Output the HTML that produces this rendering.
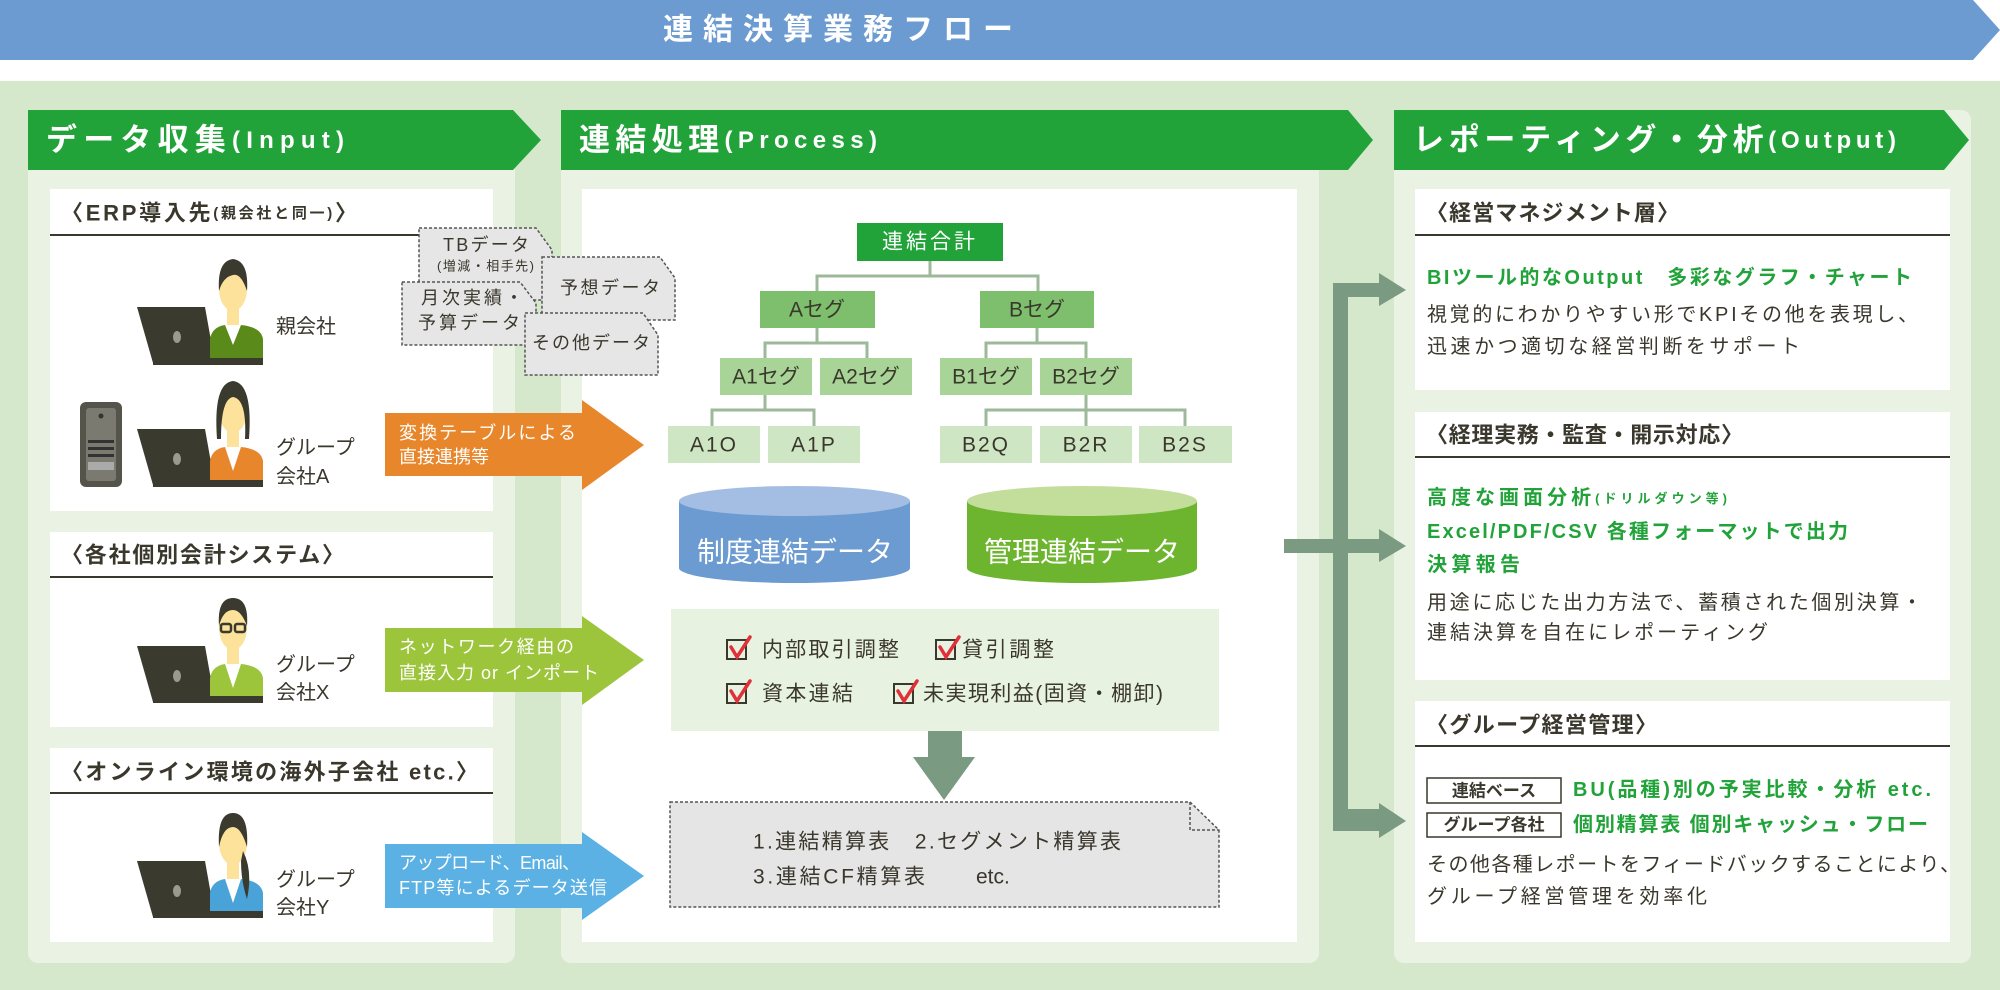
<!DOCTYPE html>
<html><head><meta charset="utf-8"><style>
html,body{margin:0;padding:0;background:#fff;}
svg{display:block;}
text{font-family:"Liberation Sans","Noto Sans CJK JP",sans-serif;}
</style></head><body>
<svg width="2000" height="990" viewBox="0 0 2000 990" xmlns="http://www.w3.org/2000/svg">
<defs>
<g id="lap">
  <polygon points="0,50 68,50 78,106 16,106" fill="#3b3a2f"/>
  <ellipse cx="40" cy="80" rx="4" ry="6" fill="#9a9a90"/>
</g>
</defs>
<!-- banner -->
<polygon points="0,0 1973,0 2000,30 1973,60 0,60" fill="#6b9bd1"/>
<text x="843" y="30" dominant-baseline="central" text-anchor="middle" font-size="30" font-weight="bold" fill="#fff" letter-spacing="10">連結決算業務フロー</text>
<rect x="0" y="81" width="2000" height="909" fill="#d5e8cc"/>
<!-- panels -->
<rect x="28" y="110" width="487" height="853" rx="10" fill="#eaf3e3"/>
<rect x="561" y="110" width="758" height="853" rx="10" fill="#eaf3e3"/>
<rect x="1394" y="110" width="577" height="853" rx="10" fill="#eaf3e3"/>
<polygon points="28,110 513,110 541,140 513,170 28,170" fill="#21a33a"/>
<polygon points="561,110 1348,110 1373,140 1348,170 561,170" fill="#21a33a"/>
<polygon points="1394,110 1944,110 1969,140 1944,170 1394,170" fill="#21a33a"/>
<text x="46" y="140" dominant-baseline="central" font-size="31" font-weight="bold" fill="#fff" textLength="298">データ収集<tspan font-size="24">(Input)</tspan></text>
<text x="579" y="140" dominant-baseline="central" font-size="31" font-weight="bold" fill="#fff" textLength="298">連結処理<tspan font-size="24">(Process)</tspan></text>
<text x="1413" y="140" dominant-baseline="central" font-size="31" font-weight="bold" fill="#fff" textLength="483">レポーティング・分析<tspan font-size="24">(Output)</tspan></text>

<!-- middle white -->
<rect x="582" y="189" width="715" height="753" fill="#fff"/>

<!-- left cards -->
<rect x="50" y="189" width="443" height="322" fill="#fff"/>
<rect x="50" y="532" width="443" height="195" fill="#fff"/>
<rect x="50" y="748" width="443" height="194" fill="#fff"/>
<g fill="#3a372c" font-weight="bold">
<text x="61" y="213" dominant-baseline="central" font-size="22" textLength="296">〈ERP導入先<tspan font-size="15">(親会社と同一)</tspan>〉</text>
<text x="61" y="555" dominant-baseline="central" font-size="22" textLength="283">〈各社個別会計システム〉</text>
<text x="61" y="772" dominant-baseline="central" font-size="22" textLength="417">〈オンライン環境の海外子会社 etc.〉</text>
</g>
<rect x="50" y="234" width="372" height="2" fill="#3a372c"/>
<rect x="50" y="576" width="443" height="2" fill="#3a372c"/>
<rect x="50" y="792" width="443" height="2" fill="#3a372c"/>

<!-- persons -->
<g transform="translate(137,257)">
  <use href="#lap"/>
  <path d="M73,108 L73,82 Q75,70 88,68 L104,68 Q124,70 126,82 L126,108 Z" fill="#5a8a1a"/>
  <polygon points="88,68 96,88 104,68" fill="#fff"/>
  <rect x="90" y="52" width="12" height="16" fill="#fce29a"/>
  <ellipse cx="96" cy="32" rx="14" ry="22" fill="#fce29a"/>
  <path d="M82,34 Q80,4 96,2 Q112,4 110,34 Q104,16 96,18 Q86,20 82,34Z" fill="#3b3a2f"/>
  <rect x="16" y="101" width="110" height="7" fill="#3b3a2f"/>
</g>
<text x="276" y="327" dominant-baseline="central" font-size="20" fill="#3a372c">親会社</text>
<g transform="translate(137,379)">
  <use href="#lap"/>
  <path d="M73,108 L73,82 Q75,70 88,68 L104,68 Q124,70 126,82 L126,108 Z" fill="#e8862b"/>
  <polygon points="88,68 96,92 104,68" fill="#fff"/>
  <rect x="90" y="52" width="12" height="16" fill="#fce29a"/>
  <ellipse cx="96" cy="32" rx="14" ry="22" fill="#fce29a"/>
  <path d="M80,60 Q76,4 96,2 Q116,4 112,60 L108,60 Q110,20 96,18 Q84,20 84,60Z" fill="#3b3a2f"/>
  <rect x="16" y="101" width="110" height="7" fill="#3b3a2f"/>
</g>
<rect x="80" y="402" width="42" height="85" rx="6" fill="#55544a"/>
<rect x="86" y="408" width="30" height="73" rx="3" fill="#7a7a70"/>
<rect x="88" y="440" width="26" height="3" fill="#333"/><rect x="88" y="447" width="26" height="3" fill="#333"/><rect x="88" y="454" width="26" height="3" fill="#333"/>
<rect x="88" y="462" width="26" height="8" fill="#aaa"/>
<circle cx="101" cy="416" r="2.5" fill="#333"/>
<text x="276" y="448" dominant-baseline="central" font-size="20" fill="#3a372c">グループ</text>
<text x="276" y="477" dominant-baseline="central" font-size="20" fill="#3a372c">会社A</text>
<g transform="translate(137,596)">
  <use href="#lap"/>
  <path d="M73,107 L73,82 Q75,70 88,68 L104,68 Q124,70 126,82 L126,107 Z" fill="#9cc53c"/>
  <polygon points="88,68 96,92 104,68" fill="#fff"/>
  <rect x="90" y="52" width="12" height="16" fill="#fce29a"/>
  <ellipse cx="96" cy="32" rx="14" ry="22" fill="#fce29a"/>
  <path d="M82,30 Q80,2 96,2 Q112,2 110,30 Q104,14 96,14 Q86,14 82,30Z" fill="#3b3a2f"/>
  <rect x="84" y="28" width="10" height="8" rx="2" fill="none" stroke="#3b3a2f" stroke-width="2.5"/>
  <rect x="98" y="28" width="10" height="8" rx="2" fill="none" stroke="#3b3a2f" stroke-width="2.5"/>
  <rect x="16" y="100" width="110" height="7" fill="#3b3a2f"/>
</g>
<text x="276" y="665" dominant-baseline="central" font-size="20" fill="#3a372c">グループ</text>
<text x="276" y="693" dominant-baseline="central" font-size="20" fill="#3a372c">会社X</text>
<g transform="translate(137,811)">
  <use href="#lap"/>
  <path d="M73,107 L73,82 Q75,70 88,68 L104,68 Q124,70 126,82 L126,107 Z" fill="#4aa3d8"/>
  <polygon points="88,68 96,92 104,68" fill="#fff"/>
  <rect x="90" y="52" width="12" height="16" fill="#fce29a"/>
  <ellipse cx="96" cy="32" rx="14" ry="22" fill="#fce29a"/>
  <path d="M82,36 Q80,2 96,2 Q112,2 110,36 Q104,16 96,16 Q86,16 82,36Z" fill="#3b3a2f"/>
  <path d="M106,40 Q116,60 110,88 Q104,70 104,50Z" fill="#3b3a2f"/>
  <rect x="16" y="100" width="110" height="7" fill="#3b3a2f"/>
</g>
<text x="276" y="880" dominant-baseline="central" font-size="20" fill="#3a372c">グループ</text>
<text x="276" y="908" dominant-baseline="central" font-size="20" fill="#3a372c">会社Y</text>

<!-- documents -->
<g fill="#e6e6e6" stroke="#555" stroke-width="1.5" stroke-dasharray="3,2">
<path d="M419,228 L536,228 L552,250 L552,300 L419,300 Z"/>
<path d="M542,257 L660,257 L675,278 L675,320 L542,320 Z"/>
<path d="M402,282 L520,282 L536,303 L536,345 L402,345 Z"/>
<path d="M525,313 L643,313 L658,335 L658,375 L525,375 Z"/>
</g>
<g fill="#3a372c" font-size="18">
<text x="443" y="245" dominant-baseline="central" textLength="86">TBデータ</text>
<text x="437" y="266" dominant-baseline="central" font-size="13" textLength="97">(増減・相手先)</text>
<text x="560" y="288" dominant-baseline="central" textLength="100">予想データ</text>
<text x="421" y="298" dominant-baseline="central" textLength="102">月次実績・</text>
<text x="418" y="323" dominant-baseline="central" textLength="102">予算データ</text>
<text x="532" y="343" dominant-baseline="central" textLength="118">その他データ</text>
</g>

<!-- input arrows -->
<polygon points="385,413 582,413 582,400 644,445 582,490 582,476 385,476" fill="#e8862b"/>
<polygon points="385,628 582,628 582,616 644,660 582,705 582,692 385,692" fill="#9cc53c"/>
<polygon points="385,844 582,844 582,832 644,876 582,920 582,908 385,908" fill="#5bb1e3"/>
<g fill="#fff" font-size="18">
<text x="399" y="433" dominant-baseline="central" textLength="177">変換テーブルによる</text>
<text x="399" y="457" dominant-baseline="central">直接連携等</text>
<text x="399" y="647" dominant-baseline="central" textLength="175">ネットワーク経由の</text>
<text x="399" y="673" dominant-baseline="central" textLength="200">直接入力 or インポート</text>
<text x="399" y="863" dominant-baseline="central" textLength="181">アップロード、Email、</text>
<text x="399" y="888" dominant-baseline="central" textLength="208">FTP等によるデータ送信</text>
</g>

<!-- tree connectors -->
<g stroke="#9db89a" stroke-width="3" fill="none">
<path d="M930,261 V276 M817,291 V276 H1038 V291"/>
<path d="M817,328 V343 M765,358 V343 H867 V358"/>
<path d="M1037,328 V343 M986,358 V343 H1086 V358"/>
<path d="M765,395 V410 M712,426 V410 H814 V426"/>
<path d="M1086,395 V426 M986,426 V410 H1185 V426"/>
</g>
<rect x="857" y="223" width="146" height="38" fill="#21a33a"/>
<text x="930" y="242" dominant-baseline="central" text-anchor="middle" font-size="21" fill="#fff" letter-spacing="3">連結合計</text>
<g fill="#7dbf6c"><rect x="760" y="291" width="115" height="37"/><rect x="980" y="291" width="114" height="37"/></g>
<g fill="#a8d497"><rect x="720" y="358" width="92" height="37"/><rect x="820" y="358" width="92" height="37"/><rect x="940" y="358" width="92" height="37"/><rect x="1040" y="358" width="92" height="37"/></g>
<g fill="#cfe6c4"><rect x="668" y="426" width="92" height="37"/><rect x="768" y="426" width="92" height="37"/><rect x="940" y="426" width="92" height="37"/><rect x="1040" y="426" width="92" height="37"/><rect x="1139" y="426" width="93" height="37"/></g>
<g fill="#3a372c" font-size="21" text-anchor="middle">
<text x="817" y="310" dominant-baseline="central">Aセグ</text>
<text x="1037" y="310" dominant-baseline="central">Bセグ</text>
<text x="766" y="377" dominant-baseline="central">A1セグ</text>
<text x="866" y="377" dominant-baseline="central">A2セグ</text>
<text x="986" y="377" dominant-baseline="central">B1セグ</text>
<text x="1086" y="377" dominant-baseline="central">B2セグ</text>
<text x="714" y="445" dominant-baseline="central" letter-spacing="2">A1O</text>
<text x="814" y="445" dominant-baseline="central" letter-spacing="2">A1P</text>
<text x="986" y="445" dominant-baseline="central" letter-spacing="2">B2Q</text>
<text x="1086" y="445" dominant-baseline="central" letter-spacing="2">B2R</text>
<text x="1185" y="445" dominant-baseline="central" letter-spacing="2">B2S</text>
</g>
<!-- cylinders -->
<path d="M679,501 V568 A115.5,15 0 0 0 910,568 V501 Z" fill="#6b9bd1"/>
<ellipse cx="794.5" cy="501" rx="115.5" ry="15" fill="#a3bde3"/>
<path d="M967,501 V568 A115,15 0 0 0 1197,568 V501 Z" fill="#6db52e"/>
<ellipse cx="1082" cy="501" rx="115" ry="15" fill="#c3dd9a"/>
<text x="795" y="552" dominant-baseline="central" text-anchor="middle" font-size="28" fill="#fff">制度連結データ</text>
<text x="1082" y="552" dominant-baseline="central" text-anchor="middle" font-size="28" fill="#fff">管理連結データ</text>

<!-- checks -->
<rect x="671" y="609" width="548" height="122" fill="#e8f2e0"/>
<g fill="none" stroke="#3a372c" stroke-width="2">
<rect x="727" y="640" width="19" height="19"/><rect x="936" y="640" width="19" height="19"/>
<rect x="727" y="684" width="19" height="19"/><rect x="894" y="684" width="19" height="19"/>
</g>
<g fill="none" stroke="#e0303a" stroke-width="3.5" stroke-linecap="round">
<path d="M731,647 L737,657 L750,637"/><path d="M940,647 L946,657 L959,637"/>
<path d="M731,691 L737,701 L750,681"/><path d="M898,691 L904,701 L917,681"/>
</g>
<g fill="#3a372c" font-size="21">
<text x="762" y="650" dominant-baseline="central" textLength="137">内部取引調整</text>
<text x="962" y="650" dominant-baseline="central" textLength="92">貸引調整</text>
<text x="762" y="694" dominant-baseline="central" textLength="91">資本連結</text>
<text x="923" y="694" dominant-baseline="central" textLength="240">未実現利益(固資・棚卸)</text>
</g>
<polygon points="928,731 962,731 962,757 975,757 944,800 913,757 928,757" fill="#7a9a82"/>
<path d="M670,802 L1190,802 L1219,830 L1219,907 L670,907 Z" fill="#e5e5e5" stroke="#555" stroke-width="1.5" stroke-dasharray="3,2"/>
<path d="M1190,802 L1190,830 L1219,830" fill="none" stroke="#555" stroke-width="1.5" stroke-dasharray="3,2"/>
<g fill="#3a372c" font-size="21">
<text x="753" y="842" dominant-baseline="central" textLength="368">1.連結精算表　2.セグメント精算表</text>
<text x="753" y="877" dominant-baseline="central" textLength="172">3.連結CF精算表</text>
<text x="976" y="877" dominant-baseline="central">etc.</text>
</g>

<!-- right connectors -->
<g fill="#7a9a82">
<rect x="1333" y="283" width="15" height="545"/>
<polygon points="1333,283 1379,283 1379,273 1406,290 1379,306 1379,297 1333,297"/>
<polygon points="1284,539 1379,539 1379,529 1406,546 1379,562 1379,553 1284,553"/>
<polygon points="1333,809 1379,809 1379,803 1406,821 1379,838 1379,831 1333,831"/>
</g>

<!-- right cards -->
<rect x="1415" y="189" width="535" height="201" fill="#fff"/>
<rect x="1415" y="412" width="535" height="268" fill="#fff"/>
<rect x="1415" y="701" width="535" height="241" fill="#fff"/>
<rect x="1415" y="234" width="535" height="2" fill="#3a372c"/>
<rect x="1415" y="456" width="535" height="2" fill="#3a372c"/>
<rect x="1415" y="745" width="535" height="2" fill="#3a372c"/>
<g fill="#3a372c" font-weight="bold" font-size="22">
<text x="1426" y="213" dominant-baseline="central" textLength="253">〈経営マネジメント層〉</text>
<text x="1426" y="435" dominant-baseline="central" textLength="317">〈経理実務・監査・開示対応〉</text>
<text x="1426" y="725" dominant-baseline="central" textLength="231">〈グループ経営管理〉</text>
</g>
<g fill="#21a33a" font-weight="bold" font-size="20">
<text x="1427" y="278" dominant-baseline="central" textLength="485">BIツール的なOutput　多彩なグラフ・チャート</text>
<text x="1427" y="498" dominant-baseline="central" textLength="300">高度な画面分析<tspan font-size="13">(ドリルダウン等)</tspan></text>
<text x="1427" y="532" dominant-baseline="central" textLength="421">Excel/PDF/CSV 各種フォーマットで出力</text>
<text x="1427" y="565" dominant-baseline="central" textLength="93">決算報告</text>
<text x="1573" y="790" dominant-baseline="central" textLength="358">BU(品種)別の予実比較・分析 etc.</text>
<text x="1573" y="825" dominant-baseline="central" textLength="355">個別精算表 個別キャッシュ・フロー</text>
</g>
<g fill="#3a372c" font-size="20">
<text x="1427" y="315" dominant-baseline="central" textLength="491">視覚的にわかりやすい形でKPIその他を表現し、</text>
<text x="1427" y="347" dominant-baseline="central" textLength="373">迅速かつ適切な経営判断をサポート</text>
<text x="1427" y="603" dominant-baseline="central" textLength="495">用途に応じた出力方法で、蓄積された個別決算・</text>
<text x="1427" y="633" dominant-baseline="central" textLength="341">連結決算を自在にレポーティング</text>
<text x="1427" y="865" dominant-baseline="central" textLength="533">その他各種レポートをフィードバックすることにより、</text>
<text x="1427" y="897" dominant-baseline="central" textLength="280">グループ経営管理を効率化</text>
</g>
<g fill="#fff" stroke="#3a372c" stroke-width="1.5">
<rect x="1427" y="778" width="134" height="25"/>
<rect x="1427" y="813" width="134" height="24"/>
</g>
<g fill="#3a372c" font-size="17" font-weight="bold" text-anchor="middle">
<text x="1494" y="791" dominant-baseline="central">連結ベース</text>
<text x="1494" y="825" dominant-baseline="central">グループ各社</text>
</g>
</svg>
</body></html>
